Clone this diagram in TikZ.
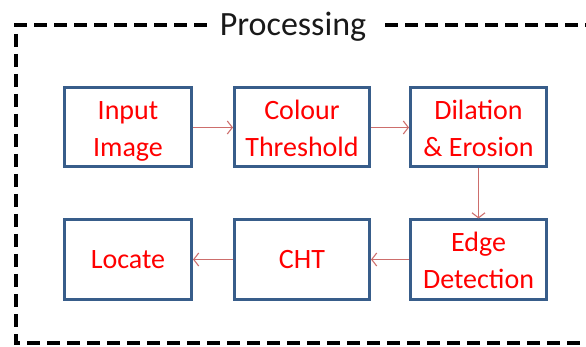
\documentclass[tikz,border=0pt]{standalone}
\usepackage{fontspec}
\setmainfont{Carlito}
\usetikzlibrary{arrows.meta}
\definecolor{boxblue}{RGB}{56,93,138}
\definecolor{arrowred}{RGB}{205,110,108}
\definecolor{txtred}{RGB}{255,0,0}
\newcommand{\mytwo}[2]{\raisebox{-3pt}[\height][\depth]{\begin{tabular}{@{}c@{}}#1\\#2\end{tabular}}}
\tikzset{
  stepbox/.style={draw=boxblue, line width=3pt, rectangle, inner sep=0pt,
    minimum height=79pt, text=txtred, align=center,
    font=\fontsize{28}{37}\selectfont},
  flow/.style={draw=arrowred, line width=1.1pt, -{Straight Barb[length=5pt,width=13pt]}},
  frame/.style={draw=black, line width=3.5pt, dash pattern=on 13pt off 7pt}
}
\begin{document}
\begin{tikzpicture}[x=1pt,y=-1pt]
\useasboundingbox (0,0) rectangle (586,347);
\clip (0,0) rectangle (586,347);
\node[anchor=base, font=\fontsize{34}{40}\selectfont, text=black!90] (title) at (293,36) {Processing};
\draw[frame] (207,25) -- (16,25) -- (16,343) -- (600,343);
\draw[frame] (385,25) -- (600,25);

\node[stepbox, minimum width=127pt] (in) at (128,127.5) {\mytwo{Input}{Image}};
\node[stepbox, minimum width=135pt] (ct) at (302,127.5) {\mytwo{Colour}{Threshold}};
\node[stepbox, minimum width=136pt] (de) at (478.5,127.5) {\mytwo{Dilation}{\& Erosion}};
\node[stepbox, minimum width=136pt] (ed) at (478.5,259.5) {\mytwo{Edge}{Detection}};
\node[stepbox, minimum width=135pt] (cht) at (302,259.5) {CHT};
\node[stepbox, minimum width=127pt] (loc) at (128,259.5) {Locate};

\draw[flow] (in.east) -- (ct.west);
\draw[flow] (ct.east) -- (de.west);
\draw[flow] (de.south) -- (ed.north);
\draw[flow] (ed.west) -- (cht.east);
\draw[flow] (cht.west) -- (loc.east);
\end{tikzpicture}
\end{document}
